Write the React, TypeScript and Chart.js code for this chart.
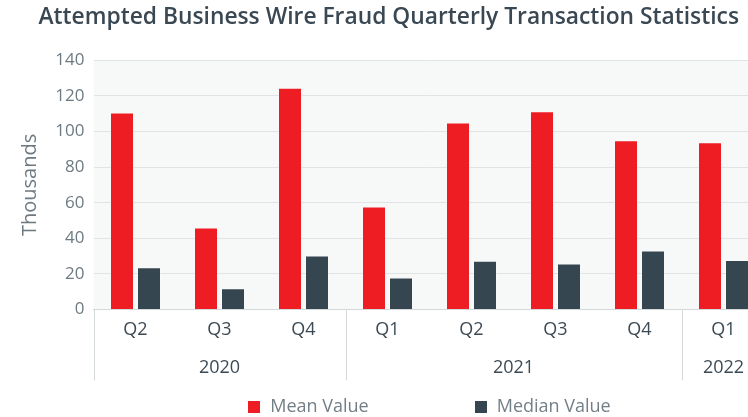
import React, { useEffect, useRef } from "react";
import { Chart, registerables } from "chart.js";

Chart.register(...registerables);

const quarters = ["Q2", "Q3", "Q4", "Q1", "Q2", "Q3", "Q4", "Q1"];
const years = ["2020", "2021", "2022"];
const yearSpans = [3, 4, 1];
const meanValues = [110.6, 46.1, 124.6, 57.9, 105, 111.3, 95.1, 93.9];
const medianValues = [23.7, 11.9, 30.4, 18, 27.4, 25.9, 33.1, 27.8];
const seriesNames = ["Mean Value", "Median Value"];
const yMin = 0;
const yMax = 140;
const yStep = 20;

const FONT = "'Open Sans', 'DejaVu Sans', sans-serif";
const RED = "#ee1d24";
const SLATE = "#364651";

const plotBg = {
  id: "plotBg",
  beforeDraw(chart: any) {
    const { ctx, chartArea: a } = chart;
    ctx.save();
    ctx.fillStyle = "#f7f9f9";
    ctx.fillRect(a.left, a.top, a.right - a.left, a.bottom - a.top);
    ctx.restore();
  },
};

const yearGroups = {
  id: "yearGroups",
  afterDraw(chart: any) {
    const { ctx, chartArea: a } = chart;
    const xs = chart.scales.x;
    const n = quarters.length;
    const w = (xs.right - xs.left) / n;
    const edge = (i: number) => xs.getPixelForValue(0) - w / 2 + i * w;
    ctx.save();
    ctx.strokeStyle = "#d3d8db";
    ctx.lineWidth = 1;
    let idx = 0;
    const bounds = [0];
    yearSpans.forEach((s) => {
      idx += s;
      bounds.push(idx);
    });
    bounds.forEach((b) => {
      const x = Math.round(edge(b)) + 0.5;
      ctx.beginPath();
      ctx.moveTo(x, a.bottom);
      ctx.lineTo(x, a.bottom + 71);
      ctx.stroke();
    });
    ctx.fillStyle = "#3d4a54";
    ctx.font = `18px ${FONT}`;
    ctx.textAlign = "center";
    ctx.textBaseline = "middle";
    years.forEach((y, i) => {
      const c = (edge(bounds[i]) + edge(bounds[i + 1])) / 2;
      ctx.fillText(y, c, a.bottom + 58);
    });
    ctx.restore();
  },
};

const bottomLegend = {
  id: "bottomLegend",
  afterDraw(chart: any) {
    const { ctx, chartArea: a } = chart;
    const ds = chart.data.datasets;
    ctx.save();
    ctx.font = `18px ${FONT}`;
    ctx.textBaseline = "middle";
    ctx.textAlign = "left";
    const box = 12;
    const gap = 10;
    const spacing = 106;
    const widths = ds.map((d: any) => box + gap + ctx.measureText(d.label).width);
    const total = widths.reduce((s: number, v: number) => s + v, 0) + spacing * (ds.length - 1);
    let x = (a.left + a.right) / 2 - total / 2;
    const y = 407;
    ds.forEach((d: any, i: number) => {
      ctx.fillStyle = d.backgroundColor;
      ctx.fillRect(Math.round(x), y - box / 2, box, box);
      ctx.fillStyle = "#737f87";
      ctx.fillText(d.label, x + box + gap, y);
      x += widths[i] + spacing;
    });
    ctx.restore();
  },
};

export default function App() {
  const ref = useRef<HTMLCanvasElement>(null);
  useEffect(() => {
    const canvas = ref.current!;
    const chart = new Chart(canvas, {
      type: "bar",
      data: {
        labels: quarters,
        datasets: [
          {
            label: seriesNames[0],
            data: meanValues,
            backgroundColor: RED,
            borderColor: "rgba(255,255,255,0.25)",
            borderWidth: 1,
            barPercentage: 0.889,
            categoryPercentage: 0.643,
          },
          {
            label: seriesNames[1],
            data: medianValues,
            backgroundColor: SLATE,
            borderColor: "rgba(255,255,255,0.25)",
            borderWidth: 1,
            barPercentage: 0.889,
            categoryPercentage: 0.643,
          },
        ],
      },
      options: {
        animation: false,
        responsive: false,
        devicePixelRatio: 1,
        layout: { padding: { left: 12, right: 4.5, top: 0, bottom: 37 } },
        plugins: {
          legend: { display: false },
          tooltip: { enabled: false },
          title: {
            display: true,
            text: "Attempted Business Wire Fraud Quarterly Transaction Statistics",
            color: "#3a4853",
            font: { family: FONT, size: 22.8, weight: "600" as any },
            padding: { top: 4.3, bottom: 28.6 },
          },
        },
        scales: {
          x: {
            grid: { display: false, drawTicks: false },
            border: { display: true, color: "#d3d8db" },
            ticks: {
              color: "#3d4a54",
              font: { family: FONT, size: 18 },
              padding: 9.7,
              maxRotation: 0,
              autoSkip: false,
            },
            afterFit(scale: any) {
              scale.height = 70.5;
            },
          },
          y: {
            min: yMin,
            max: yMax,
            grid: { color: "#e1e4e5", drawTicks: false },
            border: { display: false },
            ticks: {
              stepSize: yStep,
              color: "#6e7a82",
              font: { family: FONT, size: 17 },
              padding: 9,
            },
            title: {
              display: true,
              text: "Thousands",
              color: "#6e7a82",
              font: { family: FONT, size: 20 },
              padding: { top: 6.5, bottom: 0 },
            },
            afterFit(scale: any) {
              scale.width = 81.5;
            },
          },
        },
      },
      plugins: [plotBg, yearGroups, bottomLegend],
    });
    return () => chart.destroy();
  }, []);
  return (
    <div
      style={{
        position: "fixed",
        left: 0,
        top: 0,
        width: 748,
        height: 417,
        overflow: "hidden",
        background: "#fff",
      }}
    >
      <canvas ref={ref} width={770} height={417} style={{ display: "block" }} />
    </div>
  );
}
